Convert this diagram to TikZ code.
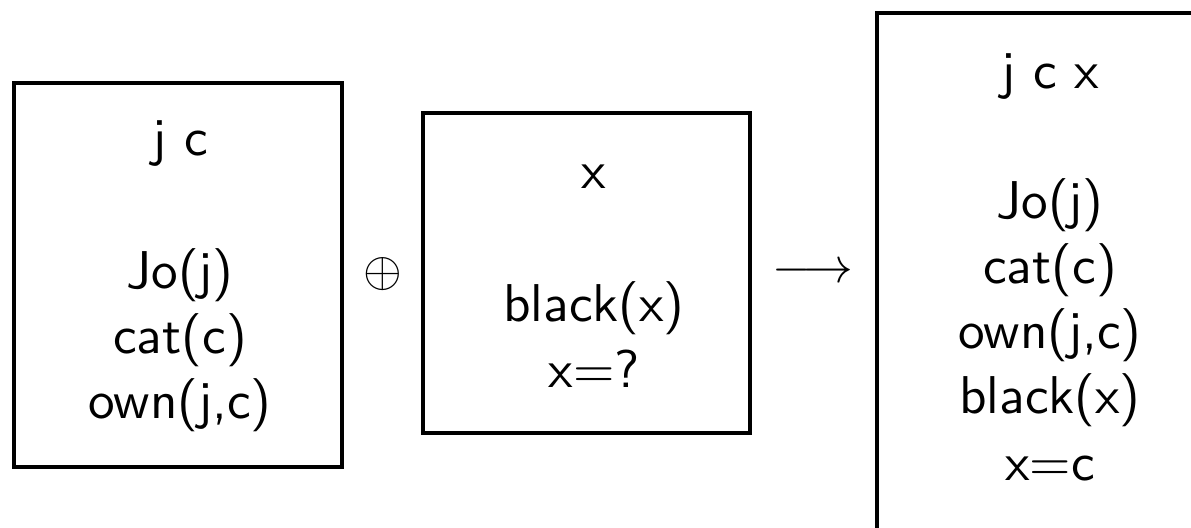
\documentclass[tikz,border=0pt]{standalone}
\newcommand{\drstxt}[1]{\scalebox{2.66}{\fontsize{10}{12}\selectfont\sffamily #1}}
\begin{document}
\begin{tikzpicture}[x=0.5pt,y=-0.5pt,
  drsbox/.style={draw=black,line width=2pt},
  ln/.style={anchor=base,inner sep=0pt},
  sym/.style={anchor=center,inner sep=0pt,font=\fontsize{26.5}{32.5}\selectfont}]
\useasboundingbox (0,0) rectangle (1191,527);
% box 1
\draw[drsbox] (14,83) rectangle (342,467);
\node[ln] (a0) at (180,155) {\drstxt{j c}};
\node[ln] (a1) at (180,288) {\drstxt{Jo(j)}};
\node[ln] (a2) at (180,353) {\drstxt{cat(c)}};
\node[ln] (a3) at (180,418) {\drstxt{own(j,c)}};
% oplus
\node[sym] (plus) at (383,274) {$\oplus$};
% box 2
\draw[drsbox] (423,113) rectangle (750,433);
\node[ln] (b0) at (594,188) {\drstxt{x}};
\node[ln] (b1) at (594,321) {\drstxt{black(x)}};
\node[ln] (b2) at (594,387) {\drstxt{x=?}};
% arrow
\node[sym] (arr) at (813,273) {$\longrightarrow$};
% box 3
\begin{scope}
\clip (0,0) rectangle (1191,527);
\draw[drsbox] (877,13) rectangle (1223,560);
\end{scope}
\node[ln] (c0) at (1050,88) {\drstxt{j c x}};
\node[ln] (c1) at (1050,218) {\drstxt{Jo(j)}};
\node[ln] (c2) at (1050,283) {\drstxt{cat(c)}};
\node[ln] (c3) at (1050,348) {\drstxt{own(j,c)}};
\node[ln] (c4) at (1050,413) {\drstxt{black(x)}};
\node[ln] (c5) at (1050,480) {\drstxt{x=c}};
\end{tikzpicture}
\end{document}
